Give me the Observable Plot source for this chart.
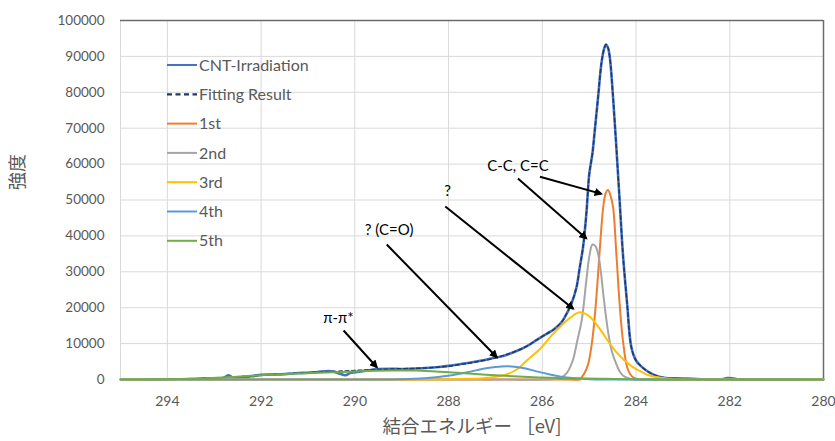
<!DOCTYPE html>
<html>
<head>
<meta charset="utf-8">
<script src="https://cdn.jsdelivr.net/npm/d3@7"></script>
<script src="https://cdn.jsdelivr.net/npm/@observablehq/plot@0.6"></script>
<style>
  html, body { margin: 0; padding: 0; background: white; }
  #chart { width: 835px; height: 441px; }
</style>
</head>
<body>
<div id="chart"></div>
<script>
// ---- Data ----
const xTicks = [294, 292, 290, 288, 286, 284, 282, 280];
const yTicks = [0, 10000, 20000, 30000, 40000, 50000, 60000, 70000, 80000, 90000, 100000];
const xLabel = "結合エネルギー ［eV]";
const yLabel = "強度";

const seriesNames = ["CNT-Irradiation", "Fitting Result", "1st", "2nd", "3rd", "4th", "5th"];
const seriesColors = ["#4472C4", "#1F3864", "#ED7D31", "#A5A5A5", "#FFC000", "#5B9BD5", "#70AD47"];

const cntE = [294.5, 294, 293.5, 293.2, 293, 292.8, 292.7, 292.6, 292.4, 292.2, 292, 291.8, 291.5, 291.2, 291, 290.8, 290.5, 290.3, 290.2, 290.1, 290, 289.8, 289.5, 289.2, 289, 288.8, 288.5, 288.2, 288, 287.8, 287.5, 287.2, 287, 286.8, 286.5, 286.3, 286.1, 285.9, 285.77, 285.6, 285.52, 285.38, 285.27, 285.2, 285.13, 285.06, 285.0, 284.96, 284.93, 284.88, 284.81, 284.74, 284.68, 284.64, 284.6, 284.56, 284.49, 284.42, 284.35, 284.28, 284.19, 284.1, 284.0, 283.9, 283.78, 283.6, 283.4, 283.1, 282.9, 282.7, 282.5, 282.2, 282.05, 281.95, 281.8, 281.5, 281, 280.5];
const cntV = [0, 50, 100, 300, 250, 400, 1200, 500, 600, 900, 1300, 1400, 1500, 1800, 1900, 2100, 2300, 1500, 1200, 1800, 2000, 2400, 2900, 3000, 2900, 3000, 3200, 3500, 3800, 4200, 4800, 5500, 6100, 6700, 8200, 9500, 11200, 12800, 13800, 15800, 17400, 21100, 25700, 31300, 36900, 46200, 57000, 60500, 63000, 69400, 78600, 87900, 92200, 93300, 92500, 89800, 78600, 64700, 49900, 35000, 21100, 9000, 5300, 3800, 2500, 1200, 500, 300, 250, 150, 0, 0, 400, 350, 0, 0, 0, 0];

const fitE = [294.5, 294, 293.5, 293, 292.5, 292, 291.5, 291, 290.5, 290, 289.5, 289, 288.5, 288, 287.5, 287, 286.8, 286.5, 286.3, 286.1, 285.9, 285.77, 285.6, 285.52, 285.38, 285.27, 285.2, 285.13, 285.06, 285.0, 284.96, 284.93, 284.88, 284.81, 284.74, 284.68, 284.64, 284.6, 284.56, 284.49, 284.42, 284.35, 284.28, 284.19, 284.1, 284.0, 283.9, 283.78, 283.6, 283.4, 283.1, 282.8, 282.5, 282, 281, 280.5];
const fitV = [0, 50, 150, 400, 800, 1200, 1600, 1900, 2200, 2500, 2800, 3000, 3200, 3700, 4700, 6000, 6800, 8200, 9500, 11200, 12800, 13800, 15800, 17400, 21100, 25700, 31300, 36900, 46200, 57000, 60500, 63000, 69400, 78600, 87900, 92200, 93300, 92500, 89800, 78600, 64700, 49900, 35000, 21100, 9000, 5300, 3800, 2500, 1200, 500, 250, 80, 0, 0, 0, 0];

const p1E = [295, 286, 285.4, 285.2, 285.16, 285.09, 285.02, 284.96, 284.91, 284.84, 284.77, 284.70, 284.65, 284.6, 284.55, 284.49, 284.42, 284.35, 284.28, 284.19, 284.12, 284.06, 283.98, 283.8, 283, 280];
const p1V = [0, 0, 0, 0, 600, 2000, 4400, 8500, 13600, 23900, 36900, 48000, 51800, 52800, 51500, 48000, 35000, 21100, 10900, 3400, 1400, 600, 100, 0, 0, 0];

const p2E = [295, 287, 286, 285.62, 285.48, 285.35, 285.25, 285.16, 285.06, 285.0, 284.93, 284.87, 284.81, 284.75, 284.70, 284.6, 284.52, 284.45, 284.36, 284.28, 284.15, 284.06, 283.8, 283, 280];
const p2V = [0, 0, 0, 400, 1800, 5300, 11000, 16400, 27600, 34000, 37600, 37200, 35000, 30000, 23900, 13600, 8000, 5300, 2500, 1100, 300, 0, 0, 0, 0];

const p3E = [295, 290, 288.8, 288.33, 287.8, 287.26, 286.76, 286.5, 286.33, 286.05, 285.77, 285.48, 285.22, 285.1, 284.98, 284.84, 284.70, 284.56, 284.42, 284.24, 284.06, 283.88, 283.71, 283.35, 283.0, 282, 280];
const p3V = [0, 0, 0, 0, 150, 350, 1400, 3200, 5300, 8500, 12700, 16400, 18700, 18400, 17400, 15300, 12700, 10000, 7600, 5200, 3400, 2100, 1100, 300, 0, 0, 0];

const p4E = [295, 291, 289.5, 289, 288.5, 287.97, 287.6, 287.26, 287.0, 286.76, 286.55, 286.33, 286.1, 285.84, 285.6, 285.35, 285.0, 284.6, 283.5, 280];
const p4V = [0, 0, 0, 50, 350, 1100, 2000, 3000, 3500, 3700, 3500, 3000, 2200, 1400, 800, 400, 100, 0, 0, 0];

const p5E = [295, 294.5, 294, 293.5, 293.15, 292.5, 291.87, 291.2, 290.46, 289.74, 289.2, 288.68, 288.0, 287.5, 286.9, 286.4, 285.84, 285.3, 284.77, 284.2, 283.5, 282, 280];
const p5V = [0, 0, 100, 200, 370, 800, 1300, 1700, 2000, 2400, 2500, 2500, 2000, 1600, 1100, 750, 470, 300, 200, 80, 0, 0, 0];

// Annotations (in data units: energy, intensity)
const annLabels = ["C-C, C=C", "?", "? (C=O)", "π-π*"];
const annLabelE = [286.52, 288.02, 289.27, 290.35];
const annLabelV = [59300, 52400, 41700, 17200];
const arrowE1 = [286.05, 286.52, 288.07, 289.32, 290.24];
const arrowV1 = [56500, 56000, 48200, 37600, 13650];
const arrowE2 = [284.74, 285.06, 285.34, 286.97, 289.53];
const arrowV2 = [51700, 39300, 19700, 6200, 3400];

// ---- Build tables ----
const toRows = (E, V) => E.map((e, i) => ({e, v: V[i]}));
const seriesData = [
  toRows(cntE, cntV), toRows(fitE, fitV), toRows(p1E, p1V), toRows(p2E, p2V),
  toRows(p3E, p3V), toRows(p4E, p4V), toRows(p5E, p5V)
];
const labels = annLabels.map((t, i) => ({t, e: annLabelE[i], v: annLabelV[i]}));
const arrows = arrowE1.map((e, i) => ({e1: e, v1: arrowV1[i], e2: arrowE2[i], v2: arrowV2[i]}));

const font = "Lato, 'Noto Sans', 'Noto Sans CJK JP', sans-serif";
const jpFont = "'Noto Sans CJK JP', sans-serif";

const lineMarks = seriesData.map((rows, i) => Plot.line(rows, {
  x: "e", y: "v", stroke: seriesColors[i], strokeWidth: i === 0 ? 2.6 : i === 1 ? 1.5 : 2,
  strokeDasharray: i === 1 ? "3.5,3" : null, curve: "catmull-rom"
}));

const svg = Plot.plot({
  width: 835, height: 441,
  marginLeft: 120, marginRight: 12, marginTop: 20, marginBottom: 62,
  x: {domain: [295, 280]},
  y: {domain: [0, 100000]},
  style: {fontFamily: font, fontSize: "13.5px", color: "#595959", background: "white", overflow: "visible"},
  marks: [
    Plot.ruleX(xTicks, {stroke: "#d9d9d9", strokeWidth: 1}),
    Plot.ruleY(yTicks, {stroke: "#d9d9d9", strokeWidth: 1}),
    Plot.ruleX([295], {stroke: "#d9d9d9", strokeWidth: 1}),
    Plot.ruleY([100000], {stroke: "#6b6b6b", strokeWidth: 1.5}),
    Plot.ruleX([280], {stroke: "#6b6b6b", strokeWidth: 1.5}),
    Plot.axisX({ticks: xTicks, tickSize: 0, tickPadding: 17, label: null, fontSize: 14}),
    Plot.axisY({ticks: yTicks, tickSize: 0, tickPadding: 16, label: null, tickFormat: d3.format("d"), fontSize: 13.5}),
    ...lineMarks,
    Plot.link(arrows, {x1: "e1", y1: "v1", x2: "e2", y2: "v2", stroke: "black", strokeWidth: 2}),
    Plot.text(labels, {x: "e", y: "v", text: "t", fill: "black", fontSize: 15, fontFamily: font}),
    Plot.text([xLabel], {frameAnchor: "bottom", dy: 53, fontSize: 18.5, fontFamily: jpFont, fill: "#595959"}),
    Plot.text([yLabel], {frameAnchor: "left", dx: -102, dy: -10, rotate: -90, fontSize: 18, fontFamily: jpFont, fill: "#595959"})
  ]
});

// arrow heads (filled triangles, Excel style)
const s = d3.select(svg);
const defs = s.append("defs");
defs.append("marker")
  .attr("id", "ahead").attr("viewBox", "0 0 10 10").attr("refX", 8).attr("refY", 5)
  .attr("markerWidth", 4.2).attr("markerHeight", 4.2).attr("orient", "auto")
  .attr("markerUnits", "strokeWidth")
  .append("path").attr("d", "M0,0L10,5L0,10z").attr("fill", "black").attr("stroke", "none");
s.selectAll('g[aria-label="link"] path, g[aria-label="link"] line').attr("marker-end", "url(#ahead)");

// legend inside plot area
const lg = s.append("g").attr("font-family", font).attr("font-size", 16)
  .attr("fill", "#595959").attr("text-anchor", "start");
seriesNames.forEach((name, i) => {
  const y = 65 + i * 29.3;
  lg.append("line").attr("x1", 167).attr("x2", 197).attr("y1", y).attr("y2", y)
    .attr("stroke", seriesColors[i]).attr("stroke-width", i === 1 ? 2.2 : 2)
    .attr("stroke-dasharray", i === 1 ? "5,3.5" : null);
  lg.append("text").attr("x", 199).attr("y", y).attr("dy", "0.35em")
    .attr("text-anchor", "start").text(name);
});

document.getElementById("chart").appendChild(svg);
</script>
</body>
</html>
